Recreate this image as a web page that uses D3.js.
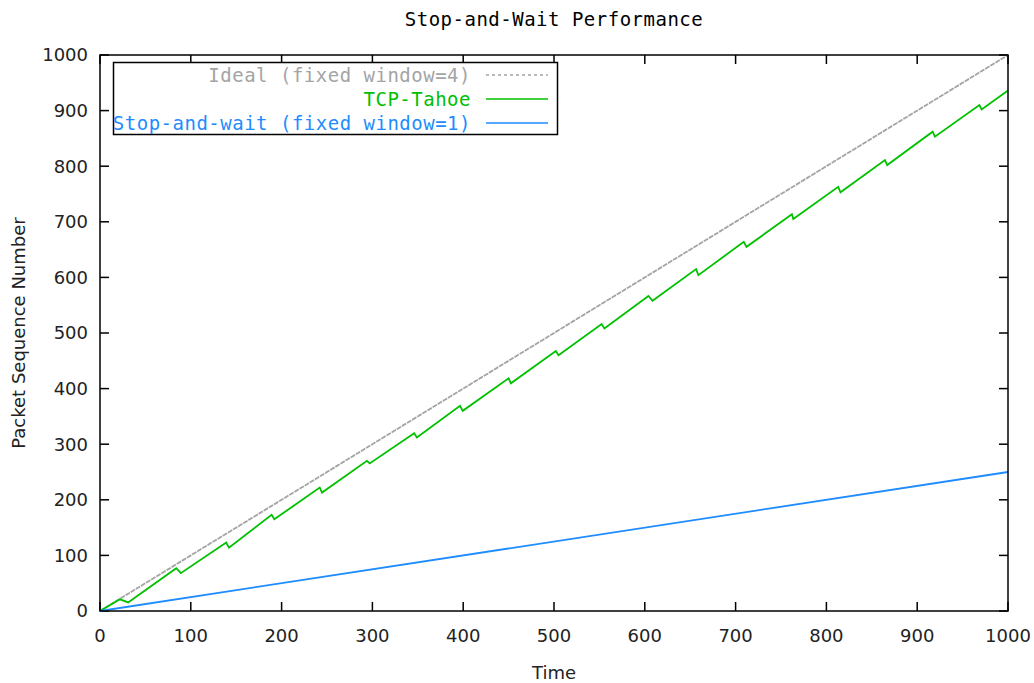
<!DOCTYPE html>
<html>
<head>
<meta charset="utf-8">
<script src="https://cdn.jsdelivr.net/npm/d3@7"></script>
<style>
	body { margin: 0; background: #fff; }
	.tick-label { font-family: "DejaVu Sans", sans-serif; font-size: 18px; fill: #222; }
	.mono { font-family: "DejaVu Sans Mono", monospace; font-size: 19px; letter-spacing: 0.5px; }
</style>
</head>
<body>
<div id="chart"></div>
<script>
// values
var ideal_time = [0, 1000];
var ideal_seq = [0, 1000];

var tahoe_time = [0, 22, 31, 84, 89, 139, 142, 189, 192, 242, 244.5, 294, 297, 346, 349, 396.5, 399.5, 450, 452.5, 502, 505, 552.5, 555.5, 604, 608.5, 656.5, 659, 709, 712, 762, 763.5, 813, 815.5, 864.5, 867, 917, 919.5, 968.5, 971, 1000];
var tahoe_seq = [0, 21, 15.5, 77, 68, 123, 114, 173, 165, 222, 213, 270, 265.5, 319.5, 312, 369, 360, 418.5, 409.5, 467.5, 460, 516, 508, 566.5, 558, 615, 604, 664, 655, 713.5, 705, 763, 753, 811, 802, 862, 853, 910, 902, 936];

var saw_time = [0, 1000];
var saw_seq = [0, 250];

var tick_values = [0, 100, 200, 300, 400, 500, 600, 700, 800, 900, 1000];

var series = [
	{ name: "Ideal (fixed window=4)", color: "#a4a4a4", dash: "5,1", legend_dash: "3,3", t: ideal_time, v: ideal_seq },
	{ name: "TCP-Tahoe", color: "#00c000", dash: null, legend_dash: null, t: tahoe_time, v: tahoe_seq },
	{ name: "Stop-and-wait (fixed window=1)", color: "#1e8cff", dash: null, legend_dash: null, t: saw_time, v: saw_seq }
];

var W = 1034, H = 683;
var margin = { top: 55, right: 26, bottom: 72, left: 100 };
var width = W - margin.left - margin.right,
	height = H - margin.top - margin.bottom;

var svg = d3.select("#chart").append("svg")
	.attr("width", W)
	.attr("height", H);

var g = svg.append("g")
	.attr("transform", "translate(" + margin.left + "," + margin.top + ")");

var x = d3.scaleLinear().domain([0, 1000]).range([0, width]);
var y = d3.scaleLinear().domain([0, 1000]).range([height, 0]);

// tick marks pointing inward on all four sides
var tick_len = 9;
var ticks = g.append("g").attr("stroke", "#000").attr("stroke-width", 1.5);
tick_values.forEach(function(d) {
	ticks.append("line").attr("x1", x(d)).attr("x2", x(d)).attr("y1", height).attr("y2", height - tick_len);
	ticks.append("line").attr("x1", x(d)).attr("x2", x(d)).attr("y1", 0).attr("y2", tick_len);
	ticks.append("line").attr("x1", 0).attr("x2", tick_len).attr("y1", y(d)).attr("y2", y(d));
	ticks.append("line").attr("x1", width).attr("x2", width - tick_len).attr("y1", y(d)).attr("y2", y(d));
});

g.append("g").selectAll("text")
	.data(tick_values)
	.enter().append("text")
	.attr("class", "tick-label")
	.attr("x", function(d) { return x(d); })
	.attr("y", height + 31)
	.attr("text-anchor", "middle")
	.text(function(d) { return d; });

g.append("g").selectAll("text")
	.data(tick_values)
	.enter().append("text")
	.attr("class", "tick-label")
	.attr("x", -12)
	.attr("y", function(d) { return y(d); })
	.attr("dy", "0.36em")
	.attr("text-anchor", "end")
	.text(function(d) { return d; });

// the data lines
var line = d3.line()
	.x(function(d) { return x(d[0]); })
	.y(function(d) { return y(d[1]); });

series.forEach(function(s) {
	var pts = s.t.map(function(t, i) { return [t, s.v[i]]; });
	g.append("path")
		.datum(pts)
		.attr("fill", "none")
		.attr("stroke", s.color)
		.attr("stroke-width", 1.8)
		.attr("stroke-dasharray", s.dash)
		.attr("d", line);
});

// frame
g.append("rect")
	.attr("width", width)
	.attr("height", height)
	.attr("fill", "none")
	.attr("stroke", "#000")
	.attr("stroke-width", 1.5);

// title and axis labels
svg.append("text")
	.attr("class", "mono")
	.attr("x", margin.left + width / 2)
	.attr("y", 26)
	.attr("text-anchor", "middle")
	.attr("fill", "#000")
	.text("Stop-and-Wait Performance");

svg.append("text")
	.attr("class", "tick-label")
	.attr("x", margin.left + width / 2)
	.attr("y", 679)
	.attr("text-anchor", "middle")
	.text("Time");

svg.append("text")
	.attr("class", "tick-label")
	.attr("transform", "translate(25," + (margin.top + height / 2) + ") rotate(-90)")
	.attr("text-anchor", "middle")
	.text("Packet Sequence Number");

// legend
var legend = svg.append("g");
legend.append("rect")
	.attr("x", 113.5)
	.attr("y", 62.5)
	.attr("width", 444)
	.attr("height", 72)
	.attr("fill", "#fff")
	.attr("stroke", "#000")
	.attr("stroke-width", 1.5);

series.forEach(function(s, i) {
	var cy = 75 + i * 24;
	legend.append("text")
		.attr("class", "mono")
		.attr("x", 471)
		.attr("y", cy)
		.attr("dy", "0.36em")
		.attr("text-anchor", "end")
		.attr("fill", s.color)
		.text(s.name);
	legend.append("line")
		.attr("x1", 486)
		.attr("x2", 548)
		.attr("y1", cy)
		.attr("y2", cy)
		.attr("stroke", s.color)
		.attr("stroke-width", 1.6)
		.attr("stroke-dasharray", s.legend_dash);
});
</script>
</body>
</html>
